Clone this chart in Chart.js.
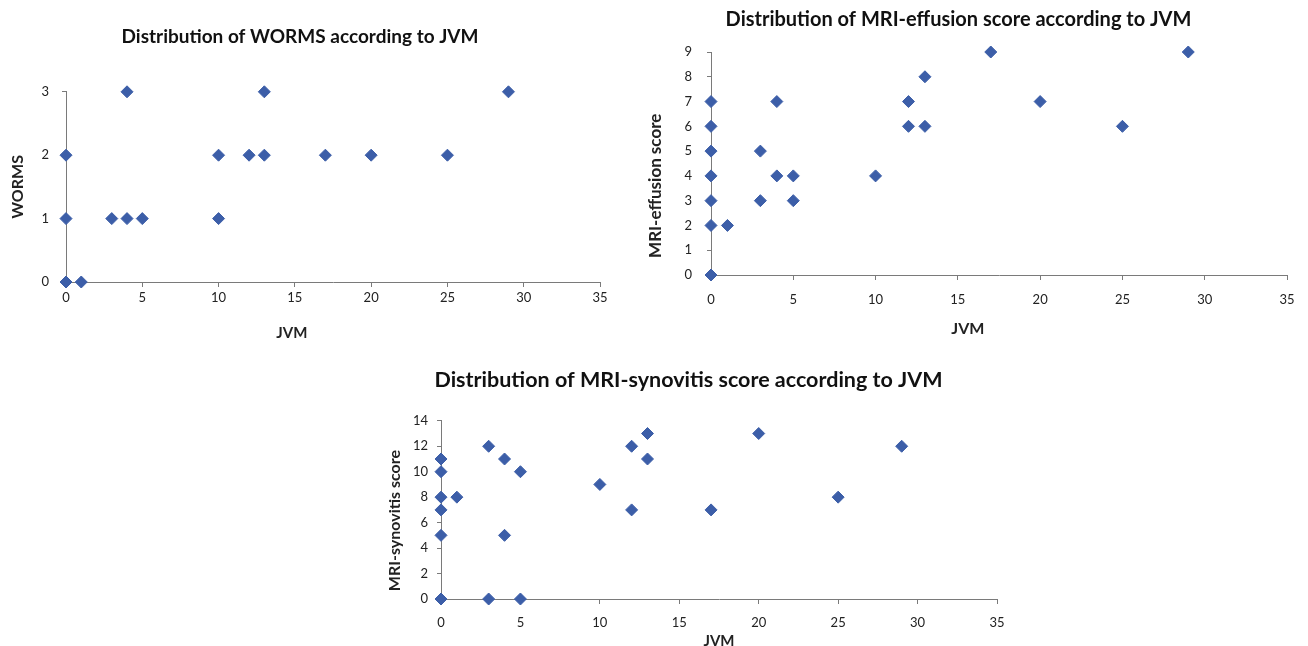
<!DOCTYPE html>
<html>
<head>
<meta charset="utf-8">
<script src="https://cdn.jsdelivr.net/npm/chart.js@4.4.1/dist/chart.umd.min.js"></script>
<style>
  html, body { margin: 0; padding: 0; background: #fff; overflow: hidden; }
  body { width: 1308px; height: 646px; position: relative; }
  .box { position: absolute; }
</style>
</head>
<body>
<div class="box" style="left:0px;top:0px;width:640px;height:350px"><canvas id="worms-chart"></canvas></div>
<div class="box" style="left:630px;top:0px;width:678px;height:345px"><canvas id="effusion-chart"></canvas></div>
<div class="box" style="left:380px;top:355px;width:640px;height:300px"><canvas id="synovitis-chart"></canvas></div>
<script>
// Datos: JVM (x) y puntajes (y)
var xTicks = [0, 5, 10, 15, 20, 25, 30, 35];

var wormsJvm   = [0, 1, 0, 3, 4, 5, 10, 0, 10, 12, 13, 17, 20, 25, 4, 13, 29];
var wormsScore = [0, 0, 1, 1, 1, 1, 1, 2, 2, 2, 2, 2, 2, 2, 3, 3, 3];
var wormsTicks = [0, 1, 2, 3];

var effusionJvm   = [0, 0, 1, 0, 3, 5, 0, 4, 5, 10, 0, 3, 0, 12, 13, 25, 0, 4, 12, 20, 13, 17, 29];
var effusionScore = [0, 2, 2, 3, 3, 3, 4, 4, 4, 4, 5, 5, 6, 6, 6, 6, 7, 7, 7, 7, 8, 9, 9];
var effusionTicks = [0, 1, 2, 3, 4, 5, 6, 7, 8, 9];

var synovitisJvm   = [0, 3, 5, 0, 4, 0, 12, 17, 0, 1, 25, 10, 0, 5, 0, 4, 13, 3, 12, 29, 13, 20];
var synovitisScore = [0, 0, 0, 5, 5, 7, 7, 7, 8, 8, 8, 9, 10, 10, 11, 11, 11, 12, 12, 12, 13, 13];
var synovitisTicks = [0, 2, 4, 6, 8, 10, 12, 14];

var markerColor = "#3C5EA8";
var axisColor = "#7a7a7a";
var fontFamily = "Lato, 'Open Sans', sans-serif";

var toPoints = function (xs, ys) {
    var pts = [];
    for (var i = 0; i < xs.length; i++) {
        pts.push({ x: xs[i], y: ys[i] });
    }
    return pts;
};

// Titulos de ejes dibujados a mano (en el original no estan centrados en el eje)
var axisTitlesPlugin = {
    id: 'axisTitles',
    afterDraw: function (chart, args, opts) {
        var ctx = chart.ctx;
        var area = chart.chartArea;
        ctx.save();
        ctx.fillStyle = '#222';
        ctx.textAlign = 'center';
        ctx.textBaseline = 'middle';

        ctx.font = 'bold ' + opts.x.size + 'px ' + fontFamily;
        ctx.fillText(opts.x.text, area.left + opts.x.frac * (area.right - area.left), opts.x.pos);

        ctx.font = 'bold ' + opts.y.size + 'px ' + fontFamily;
        ctx.translate(opts.y.pos, area.bottom - opts.y.frac * (area.bottom - area.top));
        ctx.rotate(-Math.PI / 2);
        ctx.fillText(opts.y.text, 0, 0);
        ctx.restore();
    }
};

var makeScatter = function (id, cfg) { // grafico de dispersion con ejes fijos
    return new Chart(document.getElementById(id), {
        type: 'scatter',
        plugins: [axisTitlesPlugin],
        data: {
            datasets: [{
                data: toPoints(cfg.xs, cfg.ys),
                pointStyle: 'rectRot',
                pointRadius: 6,
                borderWidth: 1,
                backgroundColor: markerColor,
                borderColor: markerColor,
                clip: false
            }]
        },
        options: {
            responsive: true,
            maintainAspectRatio: false,
            animation: false,
            events: [],
            layout: { padding: { left: 0, right: cfg.padRight, top: 0, bottom: 0 } },
            plugins: {
                legend: { display: false },
                tooltip: { enabled: false },
                title: {
                    display: true,
                    text: cfg.title,
                    color: '#111',
                    font: { family: fontFamily, size: cfg.titleSize, weight: 'bold', lineHeight: 1.2 },
                    padding: { top: cfg.titleTop, bottom: cfg.titleBottom }
                },
                axisTitles: {
                    x: { text: 'JVM', size: cfg.xTitleSize, pos: cfg.xTitlePos, frac: cfg.xTitleFrac },
                    y: { text: cfg.yTitle, size: cfg.yTitleSize, pos: cfg.yTitlePos, frac: cfg.yTitleFrac }
                }
            },
            scales: {
                x: {
                    type: 'linear',
                    min: 0,
                    max: 35,
                    afterFit: function (scale) { scale.height = cfg.xHeight; },
                    afterBuildTicks: function (scale) {
                        scale.ticks = xTicks.map(function (v) { return { value: v }; });
                    },
                    border: { display: true, color: axisColor, width: 1 },
                    grid: { display: true, drawOnChartArea: false, drawTicks: true, tickLength: 5, color: axisColor },
                    ticks: { color: '#222', padding: cfg.xTickPad, font: { family: fontFamily, size: 13 } },
                    title: { display: false }
                },
                y: {
                    type: 'linear',
                    min: 0,
                    max: cfg.yMax,
                    afterFit: function (scale) { scale.width = cfg.yWidth; },
                    afterBuildTicks: function (scale) {
                        scale.ticks = cfg.yTicks.map(function (v) { return { value: v }; });
                    },
                    border: { display: true, color: axisColor, width: 1 },
                    grid: { display: true, drawOnChartArea: false, drawTicks: true, tickLength: 4, color: axisColor },
                    ticks: { color: '#222', padding: cfg.yTickPad, font: { family: fontFamily, size: 13 } },
                    title: { display: false }
                }
            }
        }
    });
};

var wormsChart = makeScatter("worms-chart", {
    xs: wormsJvm, ys: wormsScore,
    title: 'Distribution of WORMS according to JVM',
    titleSize: 19, titleTop: 25, titleBottom: 44,
    yTitle: 'WORMS', yTitleSize: 16, yTitlePos: 18, yTitleFrac: 0.5,
    yMax: 3, yTicks: wormsTicks,
    yWidth: 66, yTickPad: 13,
    xHeight: 68, xTickPad: 3,
    xTitleSize: 15, xTitlePos: 333, xTitleFrac: 0.423,
    padRight: 40
});

var effusionChart = makeScatter("effusion-chart", {
    xs: effusionJvm, ys: effusionScore,
    title: 'Distribution of MRI-effusion score according to JVM',
    titleSize: 20, titleTop: 8, titleBottom: 20,
    yTitle: 'MRI-effusion score', yTitleSize: 17, yTitlePos: 26, yTitleFrac: 0.40,
    yMax: 9, yTicks: effusionTicks,
    yWidth: 81, yTickPad: 15,
    xHeight: 70, xTickPad: 12,
    xTitleSize: 16, xTitlePos: 329, xTitleFrac: 0.446,
    padRight: 21
});

var synovitisChart = makeScatter("synovitis-chart", {
    xs: synovitisJvm, ys: synovitisScore,
    title: 'Distribution of MRI-synovitis score according to JVM',
    titleSize: 21.5, titleTop: 12, titleBottom: 28,
    yTitle: 'MRI-synovitis score', yTitleSize: 16, yTitlePos: 15, yTitleFrac: 0.44,
    yMax: 14, yTicks: synovitisTicks,
    yWidth: 61, yTickPad: 9,
    xHeight: 56, xTickPad: 11,
    xTitleSize: 15, xTitlePos: 286, xTitleFrac: 0.5,
    padRight: 23
});
</script>
</body>
</html>
